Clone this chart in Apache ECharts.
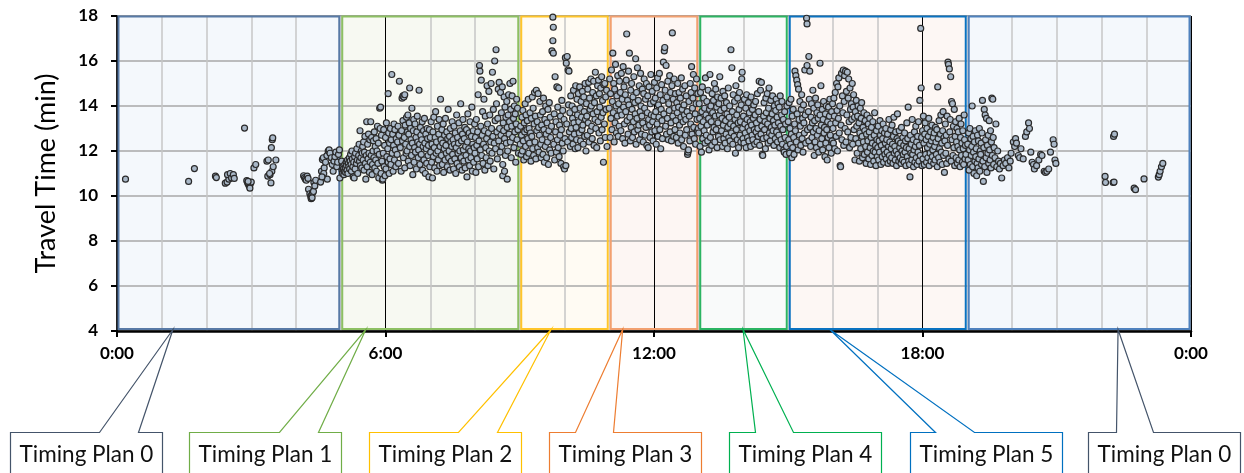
<!DOCTYPE html>
<html><head><meta charset="utf-8">
<script src="https://cdn.jsdelivr.net/npm/echarts@6/dist/echarts.min.js"></script>
<style>html,body{margin:0;padding:0;background:#fff}#c{width:1244px;height:473px}</style>
</head><body><div id="c"></div>
<script>
// ---------- DATA ----------
const xTickLabels = ['0:00', '6:00', '12:00', '18:00', '0:00'];
const planNames = ['Timing Plan 0', 'Timing Plan 1', 'Timing Plan 2', 'Timing Plan 3', 'Timing Plan 4', 'Timing Plan 5', 'Timing Plan 0'];
const planStart = [0, 5, 9, 11, 13, 15, 19];
const planEnd = [5, 9, 11, 13, 15, 19, 24];
const planCalloutAnchor = [1.25, 5.56, 9.7, 11.3, 13.99, 15.93, 22.37];

// [hour of day, travel time (min)]
const tp0Morning = [[0.19,10.75],[1.6,10.65],[1.73,11.22],[2.2,10.88],[2.22,10.82],[2.42,10.57],[2.46,10.62],[2.5,10.75],[2.47,10.95],[2.53,11.0],[2.56,10.8],[2.6,10.95],[2.62,10.78],[2.85,13.02],[2.9,10.68],[2.92,10.58],[2.94,10.5],[2.96,10.42],[2.98,10.55],[3.0,10.62],[2.97,10.35],[2.93,10.65],[3.06,11.25],[3.1,11.4],[3.35,11.55],[3.38,11.6],[3.37,10.88],[3.42,10.95],[3.44,10.58],[3.46,11.1],[3.49,11.3],[3.55,11.6],[3.45,12.15],[3.47,12.5],[3.48,12.58],[3.41,11.0],
[4.17,10.9],[4.19,10.82],[4.21,10.75],[4.23,10.7],[4.25,10.88],[4.27,10.78],[4.28,10.3],[4.31,10.1],[4.33,9.98],[4.35,10.05],[4.37,10.15],[4.39,10.2],[4.34,9.88],[4.36,9.92],[4.4,10.6],[4.42,10.45],[4.44,10.7],
[4.57,11.1],[4.59,11.62],[4.61,11.7],[4.63,11.25],[4.66,11.5],[4.69,11.8],[4.72,12.0],[4.74,12.05],[4.76,11.9],[4.79,11.7],[4.81,11.4],[4.83,11.1],[4.7,10.75],[4.62,11.0],[4.55,10.62],[4.58,10.85],[4.85,11.55],[4.87,11.75],[4.89,11.95],[4.91,11.3],[4.93,11.5],[4.95,11.85],[4.97,12.05],[4.98,10.8]];

const tp1 = [[5.02,11.55],[5.03,11.15],[5.04,11.0],[5.05,11.3],[5.06,11.2],[5.07,10.95],[5.08,11.1],[5.09,11.4],[5.1,11.25],[5.11,11.05],[5.12,11.5],[5.13,11.35],[5.14,11.15],[5.15,11.6],[5.16,11.0],[5.17,11.45],[5.18,11.3],[5.19,11.7],[5.2,11.2],[5.21,11.55],[5.22,11.85],[5.23,11.4],[5.24,11.1],[5.25,12.0],
[5.26,11.65],[5.27,11.3],[5.28,10.85],[5.29,11.5],[5.3,10.8],[5.31,11.75],[5.32,11.2],[5.33,11.9],[5.35,11.45],[5.36,12.1],[5.37,11.6],[5.38,11.0],[5.4,11.8],[5.41,12.3],[5.42,11.55],[5.43,12.9],[5.44,11.35],[5.45,11.7],[5.46,12.0],[5.47,11.25],[5.48,11.9],[5.49,12.2],
[5.5,11.6],[5.51,12.4],[5.52,11.15],[5.53,11.95],[5.54,12.65],[5.55,11.45],[5.56,10.75],[5.57,11.8],[5.58,13.3],[5.59,11.3],[5.6,12.3],[5.61,11.65],[5.62,12.75],[5.63,11.9],[5.64,11.05],[5.65,12.5],[5.66,11.5],[5.67,13.3],[5.68,11.8],[5.69,12.6],[5.7,10.95],[5.71,11.4],[5.72,12.0],[5.73,12.45],[5.74,11.7],
[5.75,12.85],[5.76,11.25],[5.77,12.2],[5.78,11.6],[5.79,12.55],[5.8,11.1],[5.81,12.0],[5.82,13.1],[5.83,11.45],[5.84,12.35],[5.85,10.8],[5.86,11.85],[5.87,13.9],[5.89,13.95],[5.88,13.0],[5.9,11.0],[5.91,12.7],[5.92,11.55],[5.93,10.7],[5.94,10.75],[5.95,11.9],[5.96,12.95],[5.97,11.3],[5.98,12.25],[5.99,10.9],
[6.0,12.6],[6.01,11.2],[6.02,13.25],[6.03,11.75],[6.06,14.55],[6.05,12.1],[6.06,11.5],[6.07,12.8],[6.08,11.0],[6.09,12.35],[6.1,11.65],[6.11,13.0],[6.12,11.4],[6.13,12.5],[6.14,15.4],[6.15,11.9],[6.16,12.75],[6.17,11.1],[6.18,12.25],[6.19,13.2],[6.2,11.6],[6.21,12.95],[6.22,12.05],[6.23,11.3],[6.24,12.55],
[6.31,15.1],[6.26,11.85],[6.27,12.4],[6.28,13.1],[6.29,11.45],[6.3,12.7],[6.37,14.35],[6.39,14.45],[6.33,12.15],[6.41,14.4],[6.35,11.1],[6.36,12.9],[6.43,14.5],[6.38,12.45],[6.39,13.35],[6.4,11.7],[6.54,14.8],[6.42,12.6],[6.43,11.25],[6.44,13.15],[6.45,12.3],[6.46,11.9],[6.47,13.5],[6.48,12.0],[6.49,12.85],
[6.5,13.6],[6.51,11.55],[6.52,12.75],[6.53,13.25],[6.54,12.2],[6.55,11.35],[6.56,13.0],[6.57,12.5],[6.58,11.8],[6.59,13.9],[6.6,12.35],[6.61,10.95],[6.62,12.9],[6.63,13.4],[6.64,11.5],[6.65,12.15],[6.66,13.2],[6.67,11.95],[6.68,12.6],[6.69,11.2],[6.7,12.85],[6.71,13.55],[6.72,12.4],[6.73,11.7],[6.74,12.05],
[6.75,14.7],[6.76,12.3],[6.77,11.4],[6.78,13.05],[6.79,12.7],[6.8,11.85],[6.81,12.5],[6.82,13.3],[6.83,11.15],[6.84,12.2],[6.85,12.9],[6.86,11.6],[6.87,13.45],[6.88,12.35],[6.89,11.0],[6.9,12.75],[6.91,12.1],[6.92,11.45],[6.93,13.0],[6.94,12.55],[6.95,11.8],[6.96,12.25],[6.97,10.85],[6.98,12.95],[6.99,11.3],
[7.0,12.6],[7.01,11.95],[7.02,13.3],[7.03,11.5],[7.04,12.3],[7.05,10.8],[7.06,12.85],[7.07,11.75],[7.08,13.5],[7.09,12.15],[7.1,11.25],[7.11,12.6],[7.12,13.75],[7.13,11.9],[7.14,12.4],[7.15,11.1],[7.16,13.1],[7.17,12.0],[7.18,11.6],[7.19,12.75],[7.2,13.4],[7.21,11.35],[7.22,12.2],[7.23,14.3],[7.24,12.5],
[7.25,11.8],[7.26,12.95],[7.27,11.4],[7.28,12.35],[7.29,13.2],[7.3,11.05],[7.31,12.1],[7.32,12.7],[7.33,11.6],[7.34,13.45],[7.35,12.25],[7.36,11.9],[7.37,12.85],[7.38,11.3],[7.39,12.55],[7.4,13.85],[7.41,11.7],[7.42,12.0],[7.43,12.65],[7.44,11.15],[7.45,13.0],[7.46,12.4],[7.47,11.55],[7.48,12.2],[7.49,13.3],
[7.5,11.85],[7.51,12.5],[7.52,11.2],[7.53,13.1],[7.54,12.3],[7.55,11.65],[7.56,12.8],[7.57,11.0],[7.58,12.15],[7.59,13.6],[7.6,11.45],[7.61,12.6],[7.62,11.9],[7.63,12.35],[7.64,13.25],[7.65,11.3],[7.66,12.0],[7.67,12.9],[7.68,14.1],[7.69,11.7],[7.7,12.45],[7.71,11.15],[7.72,12.75],[7.73,13.4],[7.74,12.05],
[7.75,11.55],[7.76,12.55],[7.77,13.05],[7.78,11.25],[7.79,12.2],[7.8,11.8],[7.81,12.95],[7.82,10.85],[7.83,12.4],[7.84,13.65],[7.85,11.6],[7.86,12.1],[7.87,12.8],[7.88,11.35],[7.89,13.3],[7.9,12.0],[7.91,11.7],[7.92,12.65],[7.93,13.95],[7.94,11.1],[7.95,12.3],[7.96,12.9],[7.97,11.5],[7.98,12.15],[7.99,13.2],
[8.0,11.9],[8.01,12.6],[8.02,11.05],[8.03,13.4],[8.04,12.25],[8.05,11.65],[8.06,12.85],[8.07,14.5],[8.08,11.3],[8.09,12.45],[8.1,15.8],[8.11,15.55],[8.12,12.05],[8.13,13.1],[8.14,15.15],[8.15,11.8],[8.16,12.7],[8.17,13.75],[8.18,11.45],[8.19,12.3],[8.2,14.3],[8.21,12.9],[8.22,11.15],[8.23,13.55],[8.24,12.15],
[8.25,11.7],[8.26,12.55],[8.27,14.9],[8.28,13.2],[8.29,11.35],[8.3,12.8],[8.31,14.65],[8.32,12.0],[8.33,13.6],[8.34,11.55],[8.35,12.4],[8.36,15.0],[8.37,13.0],[8.38,11.9],[8.39,15.5],[8.4,12.65],[8.41,13.85],[8.42,11.2],[8.43,12.35],[8.44,16.0],[8.45,13.35],[8.46,12.1],[8.47,16.5],[8.48,14.1],[8.49,12.85],
[8.5,11.65],[8.51,13.45],[8.52,14.75],[8.53,12.45],[8.54,15.05],[8.55,13.0],[8.56,11.95],[8.57,14.6],[8.58,12.7],[8.59,13.7],[8.6,12.2],[8.61,14.85],[8.62,11.4],[8.63,13.25],[8.64,12.9],[8.65,14.4],[8.66,12.55],[8.67,13.95],[8.68,11.8],[8.69,13.5],[8.7,12.35],[8.71,14.2],[8.72,13.05],[8.73,12.0],[8.74,13.6],[8.62,10.9],[8.66,11.1],[8.72,10.75],
[8.75,14.5],[8.76,12.75],[8.77,13.3],[8.78,15.0],[8.79,12.4],[8.8,13.85],[8.81,11.7],[8.82,13.1],[8.83,14.45],[8.84,12.6],[8.85,15.1],[8.86,13.45],[8.87,12.15],[8.88,14.0],[8.89,12.85],[8.9,13.65],[8.91,11.5],[8.92,13.2],[8.93,14.3],[8.94,12.5],[8.95,13.9],[8.96,12.95],[8.97,11.9]];

const tp2 = [[9.01,12.3],[9.02,13.1],[9.03,11.85],[9.04,12.7],[9.05,13.5],[9.06,12.0],[9.07,13.8],[9.08,12.45],[9.09,11.6],[9.1,13.25],[9.11,12.85],[9.12,14.1],[9.13,12.2],[9.14,13.6],[9.15,11.75],[9.16,12.95],[9.17,13.35],[9.18,12.55],[9.19,14.3],[9.2,11.9],[9.21,13.0],[9.22,12.35],[9.23,13.7],[9.24,12.8],
[9.25,11.55],[9.26,13.45],[9.27,12.65],[9.28,14.4],[9.29,12.1],[9.3,13.9],[9.31,11.8],[9.32,13.2],[9.33,14.6],[9.34,12.4],[9.35,13.55],[9.36,11.65],[9.37,14.7],[9.38,12.9],[9.39,13.3],[9.4,12.15],[9.41,14.55],[9.42,13.05],[9.43,11.95],[9.44,12.7],[9.45,14.2],[9.46,13.6],[9.47,12.3],[9.48,11.7],[9.49,13.15],
[9.5,12.5],[9.51,13.75],[9.52,11.85],[9.53,14.35],[9.54,12.95],[9.55,11.5],[9.56,13.4],[9.57,12.2],[9.58,14.0],[9.59,12.75],[9.6,11.7],[9.61,13.25],[9.62,12.4],[9.63,13.85],[9.64,11.4],[9.65,12.9],[9.66,14.15],[9.67,12.05],[9.68,13.5],[9.69,12.6],[9.7,11.9],[9.71,13.1],[9.74,17.95],[9.75,17.5],[9.74,16.9],[9.72,16.45],[9.75,16.35],
[9.76,12.3],[9.77,13.65],[9.78,11.6],[9.79,15.3],[9.8,12.85],[9.81,13.3],[9.82,11.95],[9.83,14.85],[9.84,12.5],[9.85,13.95],[9.86,12.15],[9.87,14.8],[9.88,11.75],[9.89,13.15],[9.9,12.7],[9.91,13.55],[9.92,11.45],[9.93,12.95],[9.94,14.25],[9.95,12.35],[9.96,13.8],[9.97,12.0],[9.98,11.3],[9.99,13.4],[10.0,11.2],
[10.01,12.55],[10.02,16.15],[10.03,11.35],[10.06,16.2],[10.05,13.2],[10.04,15.9],[10.07,12.4],[10.08,15.6],[10.09,14.05],[10.1,15.55],[10.11,12.85],[10.12,13.7],[10.13,12.2],[10.14,14.45],[10.15,13.0],[10.16,12.6],[10.17,14.0],[10.18,13.45],[10.19,12.3],[10.2,14.7],[10.21,13.25],[10.22,12.75],[10.23,13.85],[10.24,12.1],
[10.25,14.9],[10.26,13.05],[10.27,12.5],[10.28,14.3],[10.29,13.6],[10.3,12.15],[10.31,14.55],[10.32,13.3],[10.33,12.8],[10.34,14.85],[10.35,13.9],[10.36,12.45],[10.37,14.2],[10.38,13.5],[10.39,12.95],[10.4,14.65],[10.41,13.15],[10.42,12.3],[10.43,14.4],[10.44,13.75],[10.45,12.65],[10.46,15.0],[10.47,13.4],[10.48,12.0],[10.49,14.1],
[10.5,13.55],[10.51,12.7],[10.52,14.75],[10.53,13.25],[10.54,15.05],[10.55,12.4],[10.56,14.35],[10.57,13.85],[10.58,12.9],[10.59,15.2],[10.6,14.0],[10.61,13.1],[10.62,12.55],[10.63,14.6],[10.64,13.65],[10.65,15.1],[10.66,12.25],[10.67,14.15],[10.68,13.4],[10.69,15.5],[10.7,13.0],[10.71,14.45],[10.72,12.15],[10.73,13.75],[10.74,14.9],
[10.75,13.3],[10.76,15.15],[10.77,12.8],[10.78,14.55],[10.79,13.95],[10.8,12.45],[10.81,14.8],[10.82,13.5],[10.83,15.3],[10.84,12.95],[10.85,14.25],[10.86,13.7],[10.87,11.5],[10.88,14.95],[10.89,13.2],[10.9,15.0],[10.91,12.6],[10.92,14.4],[10.93,13.85],[10.94,14.7],[10.95,12.2]];

const tp3 = [[11.0,13.9],[11.01,15.2],[11.02,12.6],[11.03,14.55],[11.04,13.45],[11.05,15.6],[11.06,12.95],[11.07,14.2],[11.08,16.35],[11.09,13.7],[11.1,15.0],[11.11,12.4],[11.12,14.75],[11.13,13.25],[11.14,15.85],[11.15,14.0],[11.16,12.8],[11.17,14.45],[11.18,13.55],[11.19,15.35],[11.2,12.65],[11.21,14.1],[11.22,13.1],[11.23,15.1],[11.24,13.8],
[11.25,14.6],[11.26,12.9],[11.27,15.45],[11.28,13.6],[11.29,14.3],[11.3,12.55],[11.31,15.75],[11.32,13.95],[11.33,14.85],[11.34,13.2],[11.35,12.35],[11.36,14.5],[11.37,13.75],[11.38,15.15],[11.39,17.2],[11.4,13.35],[11.41,14.25],[11.42,12.75],[11.43,15.55],[11.44,14.05],[11.45,16.35],[11.46,13.5],[11.47,12.45],[11.48,14.7],[11.49,13.05],
[11.5,15.0],[11.51,13.85],[11.52,12.6],[11.53,14.4],[11.54,13.3],[11.55,15.3],[11.56,12.85],[11.57,14.15],[11.58,13.65],[11.59,16.1],[11.6,12.3],[11.61,14.6],[11.62,13.45],[11.63,15.7],[11.64,12.95],[11.65,14.25],[11.66,13.15],[11.67,14.9],[11.68,12.5],[11.69,13.75],[11.7,15.45],[11.71,14.0],[11.72,12.75],[11.73,13.55],[11.74,14.75],
[11.75,13.25],[11.76,12.4],[11.77,14.55],[11.78,15.2],[11.79,13.9],[11.8,12.7],[11.81,14.3],[11.82,13.05],[11.83,15.0],[11.84,12.25],[11.85,13.7],[11.86,14.45],[11.87,12.15],[11.88,13.4],[11.89,14.85],[11.9,13.15],[11.91,12.6],[11.92,14.1],[11.93,15.4],[11.94,13.6],[11.95,12.85],[11.96,14.65],[11.97,13.3],[11.98,12.45],[11.99,14.2],
[12.0,13.55],[12.01,15.05],[12.02,12.9],[12.03,14.35],[12.04,13.75],[12.05,12.3],[12.06,14.8],[12.07,13.2],[12.08,15.25],[12.09,12.65],[12.1,14.05],[12.11,13.5],[12.12,15.45],[12.13,12.95],[12.14,14.5],[12.15,12.1],[12.16,13.85],[12.17,14.95],[12.18,13.35],[12.19,12.55],[12.2,14.25],[12.21,15.95],[12.22,13.65],[12.23,16.45],[12.24,16.6],
[12.25,14.7],[12.26,13.1],[12.27,15.8],[12.28,12.75],[12.29,14.4],[12.3,13.45],[12.31,15.1],[12.32,12.5],[12.33,14.1],[12.34,13.8],[12.35,15.35],[12.36,12.85],[12.37,14.6],[12.38,13.25],[12.39,12.45],[12.4,14.9],[12.41,17.25],[12.42,13.55],[12.43,14.3],[12.44,12.65],[12.45,15.2],[12.46,13.9],[12.47,12.95],[12.48,14.55],[12.49,13.35],
[12.5,12.6],[12.51,14.15],[12.52,13.7],[12.53,15.0],[12.54,12.35],[12.55,13.95],[12.56,14.6],[12.57,13.15],[12.58,12.8],[12.59,14.35],[12.6,13.5],[12.61,15.25],[12.62,12.5],[12.63,13.85],[12.64,14.75],[12.65,13.3],[12.66,12.2],[12.67,14.05],[12.68,13.6],[12.69,14.9],[12.7,12.7],[12.71,13.4],[12.72,14.45],[12.73,12.95],[12.74,13.75],
[12.75,11.85],[12.76,11.95],[12.77,12.05],[12.78,14.2],[12.79,13.55],[12.8,12.45],[12.81,15.0],[12.82,13.2],[12.83,14.6],[12.84,15.75],[12.85,12.75],[12.86,13.9],[12.87,14.35],[12.88,15.4],[12.89,13.05],[12.9,12.55],[12.91,14.8],[12.92,13.65],[12.93,12.3],[12.94,14.1],[12.95,15.2],[12.96,13.4],[12.97,12.9],[12.98,14.55],[12.99,13.0]];

const tp4 = [[13.0,12.8],[13.01,14.1],[13.02,13.45],[13.03,12.2],[13.04,14.6],[13.05,13.1],[13.06,11.95],[13.07,13.75],[13.08,14.85],[13.09,12.55],[13.1,13.3],[13.11,14.35],[13.12,12.9],[13.13,13.9],[13.14,12.35],[13.15,15.25],[13.16,13.6],[13.17,12.7],[13.18,14.2],[13.19,13.15],[13.2,12.45],[13.21,14.7],[13.22,13.45],[13.23,12.05],[13.24,13.85],
[13.25,15.4],[13.26,12.6],[13.27,14.0],[13.28,13.3],[13.29,12.25],[13.3,14.55],[13.31,13.7],[13.32,12.85],[13.33,14.25],[13.34,13.05],[13.35,15.0],[13.36,12.4],[13.37,13.55],[13.38,14.75],[13.39,12.95],[13.4,13.95],[13.41,12.15],[13.42,14.4],[13.43,13.25],[13.44,12.65],[13.45,14.1],[13.46,13.6],[13.47,15.3],[13.48,12.5],[13.49,13.8],
[13.5,14.35],[13.51,12.9],[13.52,13.45],[13.53,12.2],[13.54,14.65],[13.55,13.15],[13.56,12.55],[13.57,13.9],[13.58,14.45],[13.59,12.35],[13.6,13.35],[13.61,12.75],[13.62,14.15],[13.63,13.65],[13.64,12.1],[13.65,13.05],[13.66,14.8],[13.67,12.6],[13.68,13.5],[13.69,14.0],[13.7,12.45],[13.71,13.2],[13.72,16.5],[13.73,12.8],[13.74,15.7],
[13.75,13.75],[13.76,12.3],[13.77,14.5],[13.78,13.1],[13.79,12.65],[13.8,14.2],[13.81,13.4],[13.82,11.9],[13.83,14.9],[13.84,12.95],[13.85,13.6],[13.86,12.5],[13.87,14.35],[13.88,13.25],[13.89,12.15],[13.9,13.85],[13.91,14.6],[13.92,12.7],[13.93,13.3],[13.94,12.4],[13.95,14.05],[13.96,15.2],[13.97,15.5],[13.98,13.0],[13.99,12.55],
[14.0,13.55],[14.01,12.35],[14.02,14.3],[14.03,13.2],[14.04,12.8],[14.05,13.9],[14.06,12.15],[14.07,14.5],[14.08,13.4],[14.09,12.6],[14.1,13.05],[14.11,14.15],[14.12,12.45],[14.13,13.7],[14.14,12.9],[14.15,13.3],[14.16,12.2],[14.17,14.4],[14.18,13.15],[14.19,12.7],[14.2,13.85],[14.21,12.5],[14.22,13.45],[14.23,14.05],[14.24,12.95],
[14.25,12.3],[14.26,13.6],[14.27,14.2],[14.28,12.85],[14.29,13.25],[14.3,12.4],[14.31,14.55],[14.32,13.0],[14.33,12.65],[14.34,13.75],[14.35,15.1],[14.36,12.25],[14.37,13.4],[14.38,14.7],[14.39,12.75],[14.4,15.05],[14.41,13.1],[14.42,11.85],[14.43,11.8],[14.44,12.55],[14.45,13.55],[14.46,14.15],[14.47,12.95],[14.48,13.3],[14.49,12.1],
[14.5,14.35],[14.51,13.7],[14.52,12.6],[14.53,14.55],[14.54,13.2],[14.55,12.35],[14.56,13.9],[14.57,14.8],[14.58,12.8],[14.59,13.45],[14.6,12.45],[14.61,14.25],[14.62,13.05],[14.63,12.7],[14.64,13.65],[14.65,14.45],[14.66,12.9],[14.67,13.35],[14.68,12.25],[14.69,14.0],[14.7,13.15],[14.71,12.55],[14.72,13.8],[14.73,14.3],[14.74,12.85],
[14.75,13.5],[14.76,12.4],[14.77,14.1],[14.78,13.25],[14.79,12.7],[14.8,13.95],[14.81,12.15],[14.82,14.45],[14.83,13.1],[14.84,12.5],[14.85,13.6],[14.86,14.2],[14.87,12.3],[14.88,12.95],[14.89,13.4],[14.9,12.05],[14.91,11.95],[14.92,13.75],[14.93,12.6],[14.94,13.2],[14.95,11.85],[14.96,12.2],[14.97,14.0]];

const tp5 = [[15.0,13.3],[15.01,12.5],[15.02,14.15],[15.03,11.9],[15.04,13.0],[15.05,12.3],[15.06,14.3],[15.07,12.75],[15.08,11.7],[15.09,13.55],[15.1,12.15],[15.11,13.85],[15.12,12.6],[15.13,11.85],[15.14,13.2],[15.15,15.55],[15.16,12.9],[15.17,15.35],[15.18,12.4],[15.19,15.15],[15.2,13.65],[15.21,14.95],[15.22,12.05],[15.23,14.75],[15.24,13.4],
[15.25,12.7],[15.26,14.2],[15.27,13.1],[15.28,12.25],[15.29,13.85],[15.3,14.5],[15.31,12.55],[15.32,13.45],[15.33,11.95],[15.34,14.05],[15.35,13.25],[15.36,12.8],[15.37,15.6],[15.38,13.6],[15.39,12.35],[15.41,17.9],[15.42,17.65],[15.42,15.8],[15.43,12.95],[15.46,16.2],[15.45,13.75],[15.46,12.45],[15.47,14.3],[15.48,15.55],[15.49,13.05],
[15.5,12.2],[15.51,13.5],[15.52,14.1],[15.53,12.6],[15.54,13.25],[15.55,14.7],[15.56,12.85],[15.57,13.9],[15.58,11.8],[15.59,13.35],[15.6,12.4],[15.61,14.35],[15.62,13.0],[15.63,12.15],[15.64,13.7],[15.65,12.7],[15.66,14.05],[15.67,13.45],[15.68,11.95],[15.69,12.9],[15.71,15.9],[15.71,13.6],[15.72,12.3],[15.73,14.9],[15.74,13.15],
[15.75,12.55],[15.76,13.85],[15.77,12.05],[15.78,13.4],[15.79,14.2],[15.8,12.8],[15.81,13.05],[15.82,11.75],[15.83,13.65],[15.84,12.35],[15.85,14.0],[15.86,12.95],[15.87,11.6],[15.88,13.3],[15.89,12.6],[15.9,13.95],[15.91,12.15],[15.92,13.55],[15.93,14.3],[15.94,12.7],[15.95,13.2],[15.96,11.9],[15.97,13.75],[15.98,12.45],[15.99,14.1],
[16.0,13.0],[16.01,12.35],[16.02,14.35],[16.03,13.55],[16.04,12.1],[16.05,14.6],[16.06,13.25],[16.07,12.65],[16.08,15.0],[16.09,13.8],[16.1,12.0],[16.11,14.85],[16.12,13.45],[16.13,15.25],[16.14,12.8],[16.15,14.0],[16.16,11.35],[16.17,11.3],[16.18,13.15],[16.19,15.45],[16.2,12.5],[16.21,14.45],[16.22,13.7],[16.23,15.6],[16.24,12.25],
[16.25,14.2],[16.26,15.35],[16.27,13.0],[16.28,15.55],[16.29,12.4],[16.3,14.65],[16.31,13.6],[16.32,15.5],[16.33,12.85],[16.34,14.35],[16.35,15.2],[16.36,13.3],[16.37,12.15],[16.38,14.8],[16.39,13.85],[16.4,12.6],[16.41,14.1],[16.42,13.4],[16.43,15.0],[16.44,12.3],[16.45,13.95],[16.46,14.5],[16.47,12.95],[16.48,13.5],[16.49,11.6],
[16.5,13.75],[16.51,12.55],[16.52,14.25],[16.53,13.1],[16.54,11.9],[16.55,13.55],[16.56,14.0],[16.57,12.35],[16.58,13.25],[16.59,11.55],[16.6,12.8],[16.61,13.9],[16.62,12.1],[16.63,13.45],[16.64,14.15],[16.65,12.65],[16.66,11.7],[16.67,13.05],[16.68,12.4],[16.69,13.7],[16.7,11.85],[16.71,12.9],[16.72,13.35],[16.73,12.2],[16.74,11.45],
[16.75,12.75],[16.76,13.6],[16.77,11.95],[16.78,12.45],[16.79,13.2],[16.8,11.65],[16.81,12.85],[16.82,13.45],[16.83,12.15],[16.84,11.4],[16.85,12.6],[16.86,13.05],[16.87,11.8],[16.88,12.35],[16.89,13.3],[16.9,12.0],[16.91,11.55],[16.92,12.7],[16.93,13.7],[16.94,11.95],[16.95,12.25],[16.96,11.35],[16.97,12.9],[16.98,12.5],[16.99,11.75],
[17.0,12.15],[17.01,13.1],[17.02,11.6],[17.03,12.45],[17.04,11.95],[17.05,13.35],[17.06,12.7],[17.07,11.4],[17.08,12.25],[17.09,12.9],[17.1,11.75],[17.11,12.55],[17.12,13.2],[17.13,11.5],[17.14,12.05],[17.15,12.8],[17.16,11.85],[17.17,12.35],[17.18,13.0],[17.19,11.65],[17.2,12.5],[17.21,11.95],[17.22,12.75],[17.23,11.45],[17.24,12.2],
[17.25,13.4],[17.26,11.8],[17.27,12.4],[17.28,11.55],[17.29,12.95],[17.3,12.1],[17.31,11.7],[17.32,13.15],[17.33,12.3],[17.34,11.45],[17.35,12.65],[17.36,13.5],[17.37,11.9],[17.38,12.2],[17.39,11.6],[17.4,12.85],[17.41,12.0],[17.42,11.35],[17.43,12.55],[17.44,13.65],[17.45,11.85],[17.46,12.45],[17.47,11.55],[17.48,12.9],[17.49,12.15],
[17.5,11.7],[17.51,12.35],[17.52,11.45],[17.53,13.05],[17.54,12.0],[17.55,11.6],[17.56,12.6],[17.57,11.85],[17.58,12.25],[17.59,11.5],[17.6,12.8],[17.61,11.95],[17.62,12.45],[17.63,11.35],[17.64,12.15],[17.65,13.25],[17.66,11.75],[17.67,12.55],[17.68,13.95],[17.69,11.55],[17.7,12.1],[17.71,11.4],[17.72,10.85],[17.73,12.7],[17.74,11.9],
[17.75,12.3],[17.76,11.6],[17.77,13.4],[17.78,11.85],[17.79,12.5],[17.8,11.3],[17.81,12.05],[17.82,12.85],[17.83,11.5],[17.84,12.2],[17.85,13.1],[17.86,11.7],[17.87,12.4],[17.88,11.4],[17.89,12.65],[17.9,11.95],[17.91,13.3],[17.92,11.55],[17.93,12.25],[17.94,14.25],[17.95,11.8],[17.96,17.45],[17.97,14.8],[17.98,12.6],[17.99,11.35],
[18.0,12.9],[18.01,11.65],[18.02,13.55],[18.03,12.35],[18.04,11.4],[18.05,12.75],[18.06,13.25],[18.07,11.85],[18.08,12.5],[18.09,11.5],[18.1,13.0],[18.11,12.15],[18.12,11.7],[18.13,12.65],[18.14,13.45],[18.15,11.35],[18.16,12.3],[18.17,11.9],[18.18,12.85],[18.19,11.55],[18.2,12.45],[18.21,13.15],[18.22,11.75],[18.23,12.05],[18.24,12.6],
[18.25,11.45],[18.26,12.8],[18.27,12.2],[18.28,11.6],[18.29,13.05],[18.3,12.4],[18.31,11.85],[18.32,12.95],[18.33,11.3],[18.34,14.85],[18.35,12.55],[18.36,11.7],[18.37,13.35],[18.38,12.1],[18.39,11.5],[18.4,12.75],[18.41,13.6],[18.42,11.95],[18.43,12.35],[18.44,11.4],[18.45,12.9],[18.46,13.75],[18.47,11.8],[18.48,12.6],[18.49,11.05],
[18.5,12.45],[18.51,13.2],[18.52,11.9],[18.53,12.7],[18.54,11.45],[18.55,13.55],[18.56,12.25],[18.57,15.95],[18.58,15.85],[18.59,11.65],[18.6,15.65],[18.61,12.85],[18.62,13.4],[18.63,15.3],[18.64,11.55],[18.65,14.2],[18.66,12.5],[18.67,14.1],[18.68,11.8],[18.69,13.1],[18.7,12.15],[18.71,13.85],[18.72,11.35],[18.73,12.65],[18.74,13.3],
[18.75,11.7],[18.76,12.4],[18.77,13.0],[18.78,11.45],[18.79,12.2],[18.8,12.85],[18.81,11.6],[18.82,13.45],[18.83,12.05],[18.84,11.3],[18.85,12.6],[18.86,13.2],[18.87,11.8],[18.88,12.35],[18.89,11.5],[18.9,12.9],[18.91,12.1],[18.92,11.4],[18.93,13.6],[18.94,12.5],[18.95,11.65],[18.96,12.25],[18.97,11.85]];

const tp0Evening = [[19.01,12.3],[19.02,11.6],[19.03,12.8],[19.04,11.15],[19.05,12.05],[19.06,13.0],[19.07,11.4],[19.08,12.55],[19.09,11.8],[19.1,12.2],[19.11,14.0],[19.12,11.3],[19.13,12.65],[19.14,11.95],[19.15,11.0],[19.16,12.4],[19.17,11.55],[19.18,12.9],[19.19,11.75],[19.2,12.1],[19.21,10.9],[19.22,11.45],[19.23,12.7],[19.24,11.25],
[19.25,12.45],[19.26,11.65],[19.27,13.0],[19.28,11.1],[19.29,12.0],[19.3,11.85],[19.31,12.35],[19.32,11.4],[19.33,12.8],[19.34,14.25],[19.35,11.55],[19.36,10.65],[19.37,12.15],[19.38,13.85],[19.39,11.3],[19.4,13.6],[19.41,12.5],[19.42,11.7],[19.43,13.45],[19.44,11.05],[19.45,12.25],[19.46,11.9],[19.47,12.7],[19.48,11.45],[19.49,13.35],
[19.5,12.05],[19.51,11.6],[19.52,12.9],[19.53,11.25],[19.54,12.4],[19.55,14.35],[19.56,11.8],[19.57,14.3],[19.58,12.6],[19.59,11.4],[19.6,12.15],[19.62,11.7],[19.64,13.2],[19.66,11.3],[19.68,12.0],[19.7,11.55],[19.72,11.2],[19.74,11.45],
[19.77,10.8],[19.8,11.35],[19.83,11.6],[19.86,11.45],[19.9,11.7],[19.93,11.25],[19.96,11.55],[19.98,11.9],
[20.03,12.4],[20.06,12.2],[20.08,12.55],[20.1,12.35],[20.14,11.8],[20.17,11.7],[20.2,12.1],[20.25,11.65],[20.3,12.65],[20.33,12.85],[20.37,13.25],[20.39,13.0],[20.42,11.95],[20.45,11.5],[20.48,11.4],[20.5,11.2],[20.55,11.35],[20.6,11.6],[20.64,11.85],[20.67,11.8],[20.72,11.1],[20.75,11.05],[20.78,11.1],[20.82,11.2],[20.86,11.95],[20.92,12.5],[20.94,12.3],[20.96,11.6],[20.98,11.45],
[22.08,10.87],[22.09,10.6],[22.26,10.6],[22.28,10.62],[22.27,12.65],[22.29,12.75],[22.73,10.35],[22.76,10.28],[22.95,10.76],[23.27,10.84],[23.29,10.95],[23.31,11.1],[23.34,11.3],[23.37,11.45]];

// ---------- STYLE ----------
const planFill = ['#F4F8FC', '#F7F9F2', '#FFFBF3', '#FDF6F3', '#F9FAFA', '#FDF7F4', '#F4F8FC'];
const planBorder = ['#587AA6', '#8DC063', '#FFC52A', '#F2A070', '#2CB462', '#0A72C0', '#4F82BE'];
const calloutColor = ['#44546A', '#70AD47', '#FFC000', '#ED7D31', '#00B050', '#0070C0', '#44546A'];
const boxLeft = [10, 189, 369, 549, 729, 910, 1088];
const boxW = 152;
const ptrOff = [[89, 128], [90, 129], [89, 128], [26, 64], [26, 64], [25, 64], [28, 65]];

const FONT = 'Lato, "Open Sans", sans-serif';
const chart = echarts.init(document.getElementById('c'), null, { renderer: 'canvas' });

const planData = planStart.map((s, i) => [s, planEnd[i]]);
const allPoints = [].concat(tp0Morning, tp1, tp2, tp3, tp4, tp5, tp0Evening);

function planRect(params, api, inset) {
  const p0 = api.coord([api.value(0), 18]);
  const p1 = api.coord([api.value(1), 4]);
  const x0 = p0[0] + inset, x1 = p1[0] - inset;
  return { x: x0, y: p0[1] + 0.5, width: x1 - x0, height: p1[1] - p0[1] - 2.5 };
}

chart.setOption({
  animation: false,
  grid: { left: 117, right: 53, top: 16, bottom: 142, show: true, borderColor: '#000', borderWidth: 1, backgroundColor: 'transparent' },
  xAxis: {
    type: 'value', min: 0, max: 24, interval: 6,
    axisLine: { show: true, onZero: false, lineStyle: { color: '#000', width: 2.5 } },
    axisTick: { show: true, length: 6, lineStyle: { color: '#000', width: 2 } },
    axisLabel: { formatter: v => xTickLabels[Math.round(v / 6)], fontFamily: FONT, fontWeight: 'bold', fontSize: 17, color: '#000', margin: 14 },
    splitLine: { show: true, showMinLine: true, showMaxLine: true, lineStyle: { color: '#000', width: 1 } },
    minorTick: { show: false, splitNumber: 6 },
    minorSplitLine: { show: true, lineStyle: { color: '#C6C6C6', width: 1.5 } }
  },
  yAxis: {
    type: 'value', min: 4, max: 18, interval: 2,
    name: 'Travel Time (min)', nameLocation: 'middle', nameGap: 57,
    nameTextStyle: { fontFamily: FONT, fontSize: 27, color: '#000' },
    axisLine: { show: true, lineStyle: { color: '#000', width: 1.5 } },
    axisTick: { show: true, length: 6, lineStyle: { color: '#000', width: 2 } },
    axisLabel: { fontFamily: FONT, fontWeight: 'bold', fontSize: 17, color: '#000', margin: 19 },
    splitLine: { show: true, lineStyle: { color: '#A9A9A9', width: 1.5 } }
  },
  series: [
    {
      type: 'custom', z: -1, silent: true, data: planData, encode: { x: [0, 1] },
      renderItem: (params, api) => ({ type: 'rect', shape: planRect(params, api, 1.5), style: { fill: planFill[params.dataIndex] } })
    },
    {
      type: 'custom', z: 3, silent: true, data: planData, encode: { x: [0, 1] },
      renderItem: (params, api) => ({ type: 'rect', shape: planRect(params, api, 1.5), style: { fill: 'none', stroke: planBorder[params.dataIndex], lineWidth: 2 } })
    },
    {
      type: 'scatter', z: 5, data: allPoints, symbol: 'circle', symbolSize: 6,
      itemStyle: { color: '#A9B8C8', borderColor: '#2A2A2A', borderWidth: 1.2, opacity: 1 }
    }
  ]
});

const g = [];
planNames.forEach((nm, i) => {
  const apex = chart.convertToPixel({ gridIndex: 0 }, [planCalloutAnchor[i], 4]);
  const L = boxLeft[i] + 0.5, R = L + boxW, T = 432.5, B = 500;
  const a = L + ptrOff[i][0], b = L + ptrOff[i][1];
  g.push({ type: 'polygon', z: 10, silent: true,
    shape: { points: [[L, B], [L, T], [a, T], [apex[0], apex[1] - 1.5], [b, T], [R, T], [R, B]] },
    style: { fill: '#fff', stroke: calloutColor[i], lineWidth: 1.2 } });
  g.push({ type: 'text', z: 11, silent: true, x: L + boxW / 2, y: 455,
    style: { text: nm, font: '22.5px ' + FONT, fill: '#111', align: 'center', verticalAlign: 'middle' } });
});
chart.setOption({ graphic: g });
</script>
</body></html>
